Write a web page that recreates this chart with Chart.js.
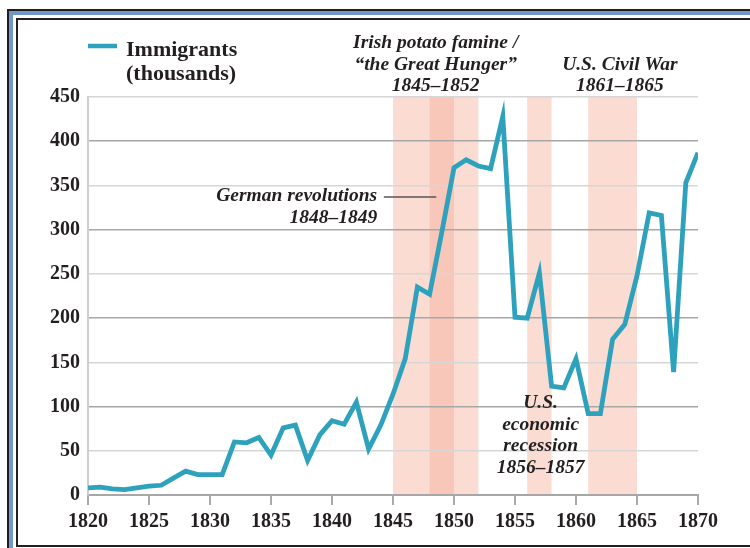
<!DOCTYPE html>
<html lang="en">
<head>
<meta charset="UTF-8">
<title>Immigration to the United States, 1820-1870</title>
<style>
    body {
        margin: 0;
        width: 750px;
        height: 548px;
        overflow: hidden;
        position: relative;
        background: #fff;
    }
    .frame-outer {
        position: absolute;
        left: 7px;
        top: 9px;
        width: 800px;
        height: 600px;
        border-top: 2px solid #231f20;
        border-left: 2px solid #231f20;
    }
    .frame-blue {
        position: absolute;
        left: 9px;
        top: 11px;
        width: 800px;
        height: 600px;
        border-top: 4px solid #6f98cb;
        border-left: 4px solid #6f98cb;
    }
    .frame-inner {
        position: absolute;
        left: 16px;
        top: 18px;
        width: 800px;
        height: 525px;
        border: 2px solid #231f20;
        background: #fff;
    }
    #chart {
        position: absolute;
        left: 0;
        top: 0;
    }
</style>
<script src="https://cdn.jsdelivr.net/npm/chart.js"></script>
</head>
<body>
<div class="frame-outer"></div>
<div class="frame-blue"></div>
<div class="frame-inner"></div>
<canvas id="chart" width="750" height="548"></canvas>

<script>
    // immigrants arriving per year, in thousands
    const years = [
        1820, 1821, 1822, 1823, 1824, 1825, 1826, 1827, 1828, 1829,
        1830, 1831, 1832, 1833, 1834, 1835, 1836, 1837, 1838, 1839,
        1840, 1841, 1842, 1843, 1844, 1845, 1846, 1847, 1848, 1849,
        1850, 1851, 1852, 1853, 1854, 1855, 1856, 1857, 1858, 1859,
        1860, 1861, 1862, 1863, 1864, 1865, 1866, 1867, 1868, 1869,
        1870
    ];
    const immigrants = [
        8, 9, 7, 6, 8, 10, 11, 19, 27, 23,
        23, 23, 60, 59, 65, 45, 76, 79, 39, 68,
        84, 80, 105, 52, 79, 114, 154, 235, 227, 297,
        370, 379, 372, 369, 428, 201, 200, 251, 123, 121,
        154, 92, 92, 176, 193, 248, 319, 316, 139, 353,
        387
    ];

    // shaded periods (start year, end year)
    const periodStart = [1845, 1848, 1856, 1861];
    const periodEnd = [1852, 1850, 1858, 1865];

    const xTicks = [1820, 1825, 1830, 1835, 1840, 1845, 1850, 1855, 1860, 1865, 1870];
    const yTicks = [0, 50, 100, 150, 200, 250, 300, 350, 400, 450];

    const famineLabel = ['Irish potato famine /', '\u201cthe Great Hunger\u201d', '1845\u20131852'];
    const germanLabel = ['German revolutions', '1848\u20131849'];
    const warLabel = ['U.S. Civil War', '1861\u20131865'];
    const recessionLabel = ['U.S.', 'economic', 'recession', '1856\u20131857'];
    const legendLabel = ['Immigrants', '(thousands)'];

    const ink = '#231f20';
    const lineColor = '#2ea2bd';
    const serif = "'Liberation Serif', 'DejaVu Serif', serif";

    const bandColors = ['#fbdcd3', '#f8c7ba', '#fbdcd3', '#fbdcd3'];

    const annotations = {
        id: 'annotations',
        beforeDraw(chart) {
            const { ctx, chartArea, scales } = chart;
            ctx.save();
            periodStart.forEach((start, i) => {
                const x0 = scales.x.getPixelForValue(start);
                const x1 = scales.x.getPixelForValue(periodEnd[i]);
                ctx.fillStyle = bandColors[i];
                ctx.fillRect(x0, chartArea.top, x1 - x0, chartArea.bottom - chartArea.top);
            });
            ctx.restore();
        },
        afterDraw(chart) {
            const { ctx, chartArea, scales } = chart;
            const x = scales.x;
            const top = chartArea.top;
            ctx.save();
            ctx.fillStyle = ink;
            ctx.textBaseline = 'alphabetic';

            // period labels
            ctx.font = 'italic bold 19.5px ' + serif;
            ctx.textAlign = 'center';
            famineLabel.forEach((t, i) => {
                ctx.fillText(t, x.getPixelForValue(1848.5), top - 49 + i * 21.5);
            });
            warLabel.forEach((t, i) => {
                ctx.fillText(t, x.getPixelForValue(1863.6), top - 27 + i * 21);
            });
            recessionLabel.forEach((t, i) => {
                ctx.fillText(t, x.getPixelForValue(1857.1), scales.y.getPixelForValue(98) + i * 21.5);
            });

            ctx.textAlign = 'right';
            const gy = scales.y.getPixelForValue(337);
            germanLabel.forEach((t, i) => {
                ctx.fillText(t, x.getPixelForValue(1843.7), gy + 4.5 + i * 22);
            });
            ctx.strokeStyle = '#5a5555';
            ctx.lineWidth = 1.5;
            ctx.beginPath();
            ctx.moveTo(x.getPixelForValue(1844.25), gy);
            ctx.lineTo(x.getPixelForValue(1848.55), gy);
            ctx.stroke();

            // legend
            ctx.strokeStyle = lineColor;
            ctx.lineWidth = 4.5;
            ctx.beginPath();
            ctx.moveTo(chartArea.left, 46);
            ctx.lineTo(chartArea.left + 29, 46);
            ctx.stroke();
            ctx.font = 'bold 22px ' + serif;
            ctx.textAlign = 'left';
            legendLabel.forEach((t, i) => {
                ctx.fillText(t, chartArea.left + 38, 56 + i * 24);
            });
            ctx.restore();
        }
    };

    const chart = new Chart(document.getElementById('chart'), {
        type: 'line',
        data: {
            datasets: [{
                label: legendLabel.join(' '),
                data: years.map((yr, i) => ({ x: yr, y: immigrants[i] })),
                borderColor: lineColor,
                borderWidth: 4.8,
                borderJoinStyle: 'miter',
                pointRadius: 0,
                tension: 0,
                fill: false
            }]
        },
        options: {
            responsive: false,
            animation: false,
            devicePixelRatio: 1,
            layout: {
                padding: { left: 0, right: 52, top: 97, bottom: 0 }
            },
            plugins: {
                legend: { display: false },
                tooltip: { enabled: false }
            },
            scales: {
                x: {
                    type: 'linear',
                    min: 1820,
                    max: 1870,
                    afterBuildTicks: scale => {
                        scale.ticks = xTicks.map(v => ({ value: v }));
                    },
                    afterFit: scale => { scale.height = 53; },
                    grid: {
                        drawOnChartArea: false,
                        drawTicks: true,
                        tickLength: 10,
                        color: '#a9a9a9',
                        lineWidth: 2
                    },
                    border: { color: '#a7a7a7', width: 2 },
                    ticks: {
                        autoSkip: false,
                        maxRotation: 0,
                        padding: 5,
                        color: ink,
                        font: { family: serif, size: 20, weight: 'bold' },
                        callback: v => String(v)
                    }
                },
                y: {
                    min: 0,
                    max: 450,
                    afterBuildTicks: scale => {
                        scale.ticks = yTicks.map(v => ({ value: v }));
                    },
                    afterFit: scale => { scale.width = 88; },
                    grid: {
                        drawTicks: false,
                        lineWidth: 1.5,
                        color: c => (c.tick && c.tick.value % 100 === 0) ? '#a7a7a7' : '#d6d6d6'
                    },
                    border: { color: '#cfcfcf', width: 2 },
                    ticks: {
                        padding: 8,
                        color: ink,
                        font: { family: serif, size: 20, weight: 'bold' },
                        callback: v => String(v)
                    }
                }
            }
        },
        plugins: [annotations]
    });
</script>
</body>
</html>
